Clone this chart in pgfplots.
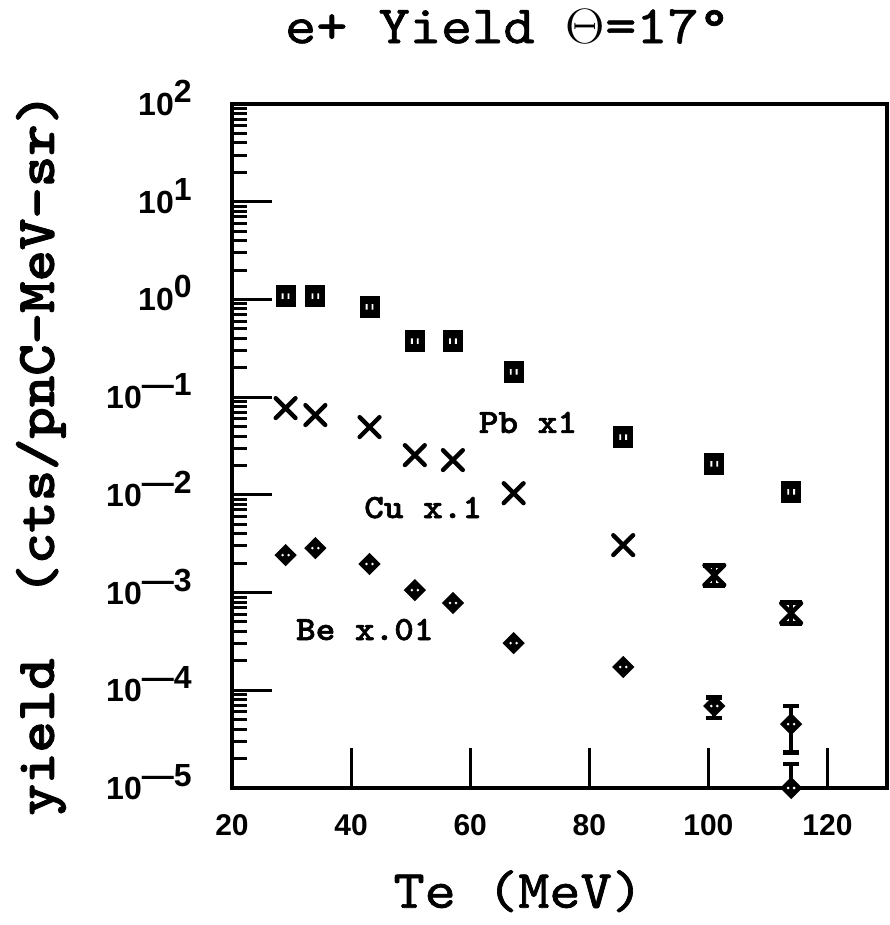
\documentclass[border=0pt]{standalone}
\usepackage{fontspec}
\usepackage{graphicx}
\usepackage{pgfplots}
\pgfplotsset{compat=1.18}

\newfontfamily\sans{Liberation Sans}
\newfontfamily\ttm{lmmono10-regular}[Extension=.otf, FakeBold=1.2]
\newfontfamily\ttb{lmmonolt10-bold}[Extension=.otf, FakeBold=1.6]

% tick label of a decade: 10 with a full-size raised exponent
\newcommand\ylab[1]{10\raisebox{6.5pt}{#1}}
% typewriter text, slightly widened
\newcommand\tw[2]{{\ttm\fontsize{#1}{#1}\selectfont\scalebox{1.1}[1]{#2}}}
\newcommand\twb[2]{{\ttb\fontsize{#1}{#1}\selectfont\scalebox{1.1}[1]{#2}}}

% Pb: filled rounded box with two light slits
\pgfdeclareplotmark{pbsq}{%
  \begin{pgfscope}
    \pgfsetcornersarced{\pgfqpoint{1.5pt}{1.5pt}}%
    \pgfpathrectangle{\pgfpoint{-\pgfplotmarksize}{-1.08\pgfplotmarksize}}%
      {\pgfpoint{2\pgfplotmarksize}{2.16\pgfplotmarksize}}%
    \pgfusepathqfillstroke
  \end{pgfscope}
  \begin{pgfscope}
    \pgfsetfillcolor{white}%
    \pgfpathrectangle{\pgfpoint{-.42\pgfplotmarksize}{-.3\pgfplotmarksize}}%
      {\pgfpoint{.2\pgfplotmarksize}{.6\pgfplotmarksize}}%
    \pgfpathrectangle{\pgfpoint{.22\pgfplotmarksize}{-.3\pgfplotmarksize}}%
      {\pgfpoint{.2\pgfplotmarksize}{.6\pgfplotmarksize}}%
    \pgfusepathqfill
  \end{pgfscope}
}
% Be: filled rounded diamond with two light dots
\pgfdeclareplotmark{bedia}{%
  \begin{pgfscope}
    \pgfsetcornersarced{\pgfqpoint{1.2pt}{1.2pt}}%
    \pgfpathmoveto{\pgfqpoint{0pt}{\pgfplotmarksize}}%
    \pgfpathlineto{\pgfqpoint{\pgfplotmarksize}{0pt}}%
    \pgfpathlineto{\pgfqpoint{0pt}{-\pgfplotmarksize}}%
    \pgfpathlineto{\pgfqpoint{-\pgfplotmarksize}{0pt}}%
    \pgfpathclose
    \pgfusepathqfillstroke
  \end{pgfscope}
  \begin{pgfscope}
    \pgfsetfillcolor{white}%
    \pgfpathcircle{\pgfqpoint{-.3\pgfplotmarksize}{0pt}}{.14\pgfplotmarksize}%
    \pgfpathcircle{\pgfqpoint{.3\pgfplotmarksize}{0pt}}{.14\pgfplotmarksize}%
    \pgfusepathqfill
  \end{pgfscope}
}

\pgfplotsset{
  pbstyle/.style={only marks, mark=pbsq, mark size=4.6pt,
    mark options={fill=black, draw=black, line width=0.8pt}},
  custyle/.style={only marks, mark=x, mark size=7pt,
    mark options={line width=2.2pt, line cap=round}},
  bestyle/.style={only marks, mark=bedia, mark size=5pt,
    mark options={fill=black, draw=black, line width=0.8pt}},
  ebars/.style={error bars/.cd, y dir=both, y explicit, error mark=|,
    error bar style={line width=2pt, black},
    error mark options={line width=2.4pt, mark size=#1, black}},
}

\begin{document}
\begin{tikzpicture}
\useasboundingbox (0,0) rectangle (444.5pt,462.5pt);
\begin{axis}[
  at={(116pt,68.5pt)}, anchor=south west,
  scale only axis, width=327.5pt, height=342pt,
  xmin=20, xmax=130, ymin=1e-5, ymax=1e2,
  ymode=log, clip=false,
  xtick={20,40,60,80,100,120},
  ytick={1e-5,1e-4,1e-3,1e-2,1e-1,1,10,100},
  yticklabels={{\ylab{—5}},{\ylab{—4}},{\ylab{—3}},{\ylab{—2}},{\ylab{—1}},{\ylab{0}},{\ylab{1}},{\ylab{2}}},
  minor ytick={2e-5,3e-5,4e-5,5e-5,6e-5,7e-5,8e-5,9e-5,
               2e-4,3e-4,4e-4,5e-4,6e-4,7e-4,8e-4,9e-4,
               2e-3,3e-3,4e-3,5e-3,6e-3,7e-3,8e-3,9e-3,
               2e-2,3e-2,4e-2,5e-2,6e-2,7e-2,8e-2,9e-2,
               0.2,0.3,0.4,0.5,0.6,0.7,0.8,0.9,
               2,3,4,5,6,7,8,9,
               20,30,40,50,60,70,80,90},
  tick pos=left, tick align=inside,
  major tick length=20pt, minor tick length=7.5pt,
  major tick style={black, line width=1.5pt},
  minor tick style={black, line width=1.5pt},
  axis line style={line width=2.2pt},
  /pgf/number format/assume math mode=true,
  xticklabel style={font=\sans\bfseries\fontsize{15}{15}\selectfont,
    anchor=base, inner sep=0pt, yshift=-23.5pt},
  yticklabel style={font=\sans\bfseries\fontsize{16}{16}\selectfont,
    anchor=base east, inner sep=0pt, xshift=-20pt, yshift=-5.75pt},
  title={\tw{27}{e+ Yield $\Theta$=17\textdegree}},
  title style={at={(axis description cs:0.4206,1.089)}, anchor=base,
    inner sep=0pt, yshift=-6pt},
  xlabel={\tw{27}{Te (MeV)}},
  xlabel style={at={(axis description cs:0.437,-0.175)}, anchor=base, inner sep=0pt},
  ylabel={\twb{27.2}{yield\ \ (cts/pnC–MeV–sr)}},
  ylabel style={at={(axis description cs:-0.272,0.488)}, anchor=base, inner sep=0pt},
]

% Pb x1
\addplot[pbstyle] coordinates {
  (29,1.08) (34,1.08) (43.1,0.84) (50.7,0.375) (57.1,0.375)
  (67.3,0.181) (85.7,0.039) (101,0.0207) (113.9,0.0107)
};

% Cu x.1
\addplot[custyle] coordinates {
  (29,0.0773) (34,0.0656) (43.1,0.0494) (50.7,0.0255) (57.1,0.0227)
  (67.3,0.0104) (85.7,0.00306)
};
\addplot[custyle, ebars=5.5pt] coordinates {
  (101,0.00151)    += (0,0.0004)   -= (0,0.00032)
  (113.9,0.000617) += (0,0.00018)  -= (0,0.00013)
};

% Be x.01
\addplot[bestyle] coordinates {
  (29,0.00242) (34,0.00285) (43.1,0.00196) (50.7,0.00106) (57.1,0.000782)
  (67.3,0.000304) (85.7,0.000173)
};
\addplot[bestyle, ebars=4pt] coordinates {
  (101,6.9e-5)   += (0,1.6e-5)  -= (0,1.7e-5)
  (113.9,4.5e-5) += (0,2.4e-5)  -= (0,2.2e-5)
  (113.9,1e-5)   += (0,0.76e-5) -= (0,0)
};

\node[anchor=base, inner sep=0pt] at (axis cs:69.7,0.043) {\twb{17}{Pb x1}};
\node[anchor=base, inner sep=0pt] at (axis cs:52.1,0.00579) {\twb{17}{Cu x.1}};
\node[anchor=base, inner sep=0pt] at (axis cs:42.3,3.27e-4) {\twb{17}{Be x.01}};
\end{axis}
\end{tikzpicture}
\end{document}
